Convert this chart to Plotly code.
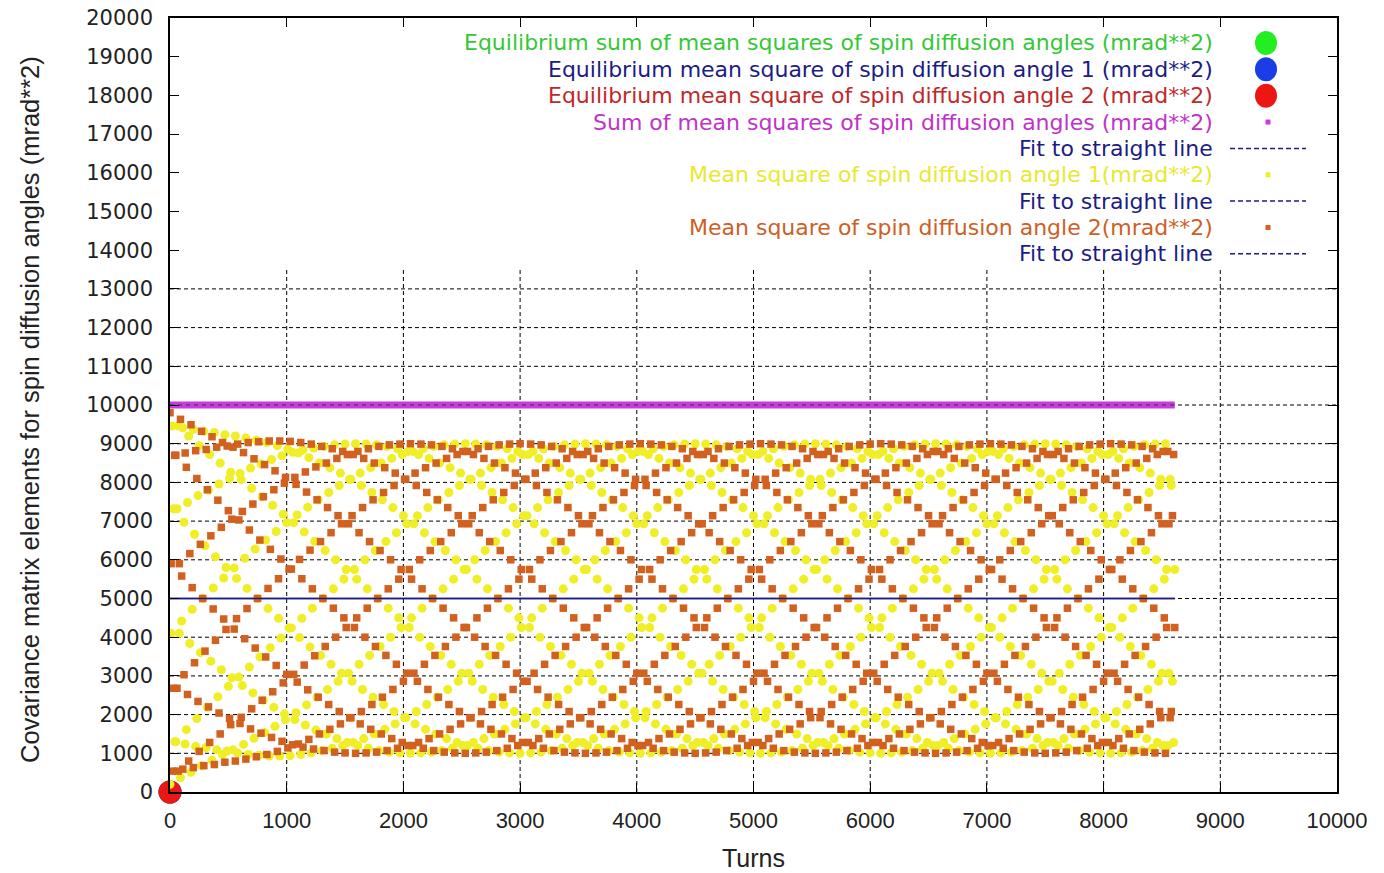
import plotly.graph_objects as go

# ---------------- data ----------------
# one sample every 10 turns, 0 ... 8610
turns = list(range(0, 8611, 10))

angle2_ms = [
    9800, 5900, 540, 2680, 8700, 8700, 2680, 540, 5900,
    9630, 5580, 590, 3030, 8760, 8390, 2520, 800, 6160,
    9490, 5280, 630, 3340, 8820, 8100, 2340, 1050, 6400,
    9320, 5000, 680, 3640, 8850, 7810, 2200, 1280, 6620,
    9180, 4730, 710, 3920, 8910, 7540, 2040, 1500, 6840,
    9030, 4470, 770, 4200, 8940, 7270, 1900, 1740, 7050,
    8910, 4210, 800, 4480, 8990, 7030, 1770, 1930, 7250,
    8770, 3960, 850, 4740, 9030, 6770, 1630, 2150, 7440,
    8610, 3720, 910, 5000, 9050, 6510, 1520, 2370, 7630,
    8460, 3490, 970, 5260, 9070, 6270, 1410, 2590, 7810,
    8300, 3270, 1050, 5510, 9070, 6020, 1310, 2820, 7980,
    8130, 3040, 1140, 5760, 9060, 5760, 1220, 3040, 8130,
    7950, 2840, 1240, 6010, 9030, 5510, 1160, 3280, 8270,
    7750, 2640, 1360, 6250, 8990, 5250, 1110, 3520, 8400,
    7550, 2450, 1500, 6470, 8930, 5000, 1070, 3760, 8500,
    7350, 2260, 1620, 6700, 8870, 4750, 1030, 4000, 8620,
    7140, 2080, 1760, 6930, 8800, 4500, 1010, 4250, 8720,
    6930, 1920, 1920, 7140, 8720, 4250, 1000, 4500, 8800,
    6700, 1760, 2080, 7350, 8620, 4000, 1010, 4750, 8870,
    6470, 1620, 2260, 7550, 8500, 3760, 1030, 5000, 8930,
    6240, 1500, 2450, 7740, 8380, 3530, 1070, 5250, 8970,
    6000, 1380, 2650, 7920, 8240, 3300, 1130, 5500, 8990,
    5750, 1280, 2860, 8080, 8080, 3070, 1200, 5750, 9000,
    5500, 1200, 3070, 8240, 7920, 2860, 1280, 6000, 8990,
    5250, 1130, 3300, 8380, 7740, 2650, 1380, 6240, 8970,
    5000, 1070, 3530, 8500, 7550, 2450, 1500, 6470, 8930,
    4750, 1030, 3760, 8620, 7350, 2260, 1620, 6700, 8870,
    4500, 1010, 4000, 8720, 7140, 2080, 1760, 6930, 8800,
    4250, 1000, 4250, 8800, 6930, 1920, 1920, 7140, 8720,
    4000, 1010, 4500, 8870, 6700, 1760, 2080, 7350, 8620,
    3760, 1030, 4750, 8930, 6470, 1620, 2260, 7550, 8500,
    3530, 1070, 5000, 8970, 6240, 1500, 2450, 7740, 8380,
    3300, 1130, 5250, 8990, 6000, 1380, 2650, 7920, 8240,
    3070, 1200, 5500, 9000, 5750, 1280, 2860, 8080, 8080,
    2860, 1280, 5750, 8990, 5500, 1200, 3070, 8240, 7920,
    2650, 1380, 6000, 8970, 5250, 1130, 3300, 8380, 7740,
    2450, 1500, 6240, 8930, 5000, 1070, 3530, 8500, 7550,
    2260, 1620, 6470, 8870, 4750, 1030, 3760, 8620, 7350,
    2080, 1760, 6700, 8800, 4500, 1010, 4000, 8720, 7140,
    1920, 1920, 6930, 8720, 4250, 1000, 4250, 8800, 6930,
    1760, 2080, 7140, 8620, 4000, 1010, 4500, 8870, 6700,
    1620, 2260, 7350, 8500, 3760, 1030, 4750, 8930, 6470,
    1500, 2450, 7550, 8380, 3530, 1070, 5000, 8970, 6240,
    1380, 2650, 7740, 8240, 3300, 1130, 5250, 8990, 6000,
    1280, 2860, 7920, 8080, 3070, 1200, 5500, 9000, 5750,
    1200, 3070, 8080, 7920, 2860, 1280, 5750, 8990, 5500,
    1130, 3300, 8240, 7740, 2650, 1380, 6000, 8970, 5250,
    1070, 3530, 8380, 7550, 2450, 1500, 6240, 8930, 5000,
    1030, 3760, 8500, 7350, 2260, 1620, 6470, 8870, 4750,
    1010, 4000, 8620, 7140, 2080, 1760, 6700, 8800, 4500,
    1000, 4250, 8720, 6930, 1920, 1920, 6930, 8720, 4250,
    1010, 4500, 8800, 6700, 1760, 2080, 7140, 8620, 4000,
    1030, 4750, 8870, 6470, 1620, 2260, 7350, 8500, 3760,
    1070, 5000, 8930, 6240, 1500, 2450, 7550, 8380, 3530,
    1130, 5250, 8970, 6000, 1380, 2650, 7740, 8240, 3300,
    1200, 5500, 8990, 5750, 1280, 2860, 7920, 8080, 3070,
    1280, 5750, 9000, 5500, 1200, 3070, 8080, 7920, 2860,
    1380, 6000, 8990, 5250, 1130, 3300, 8240, 7740, 2650,
    1500, 6240, 8970, 5000, 1070, 3530, 8380, 7550, 2450,
    1620, 6470, 8930, 4750, 1030, 3760, 8500, 7350, 2260,
    1760, 6700, 8870, 4500, 1010, 4000, 8620, 7140, 2080,
    1920, 6930, 8800, 4250, 1000, 4250, 8720, 6930, 1920,
    2080, 7140, 8720, 4000, 1010, 4500, 8800, 6700, 1760,
    2260, 7350, 8620, 3760, 1030, 4750, 8870, 6470, 1620,
    2450, 7550, 8500, 3530, 1070, 5000, 8930, 6240, 1500,
    2650, 7740, 8380, 3300, 1130, 5250, 8970, 6000, 1380,
    2860, 7920, 8240, 3070, 1200, 5500, 8990, 5750, 1280,
    3070, 8080, 8080, 2860, 1280, 5750, 9000, 5500, 1200,
    3300, 8240, 7920, 2650, 1380, 6000, 8990, 5250, 1130,
    3530, 8380, 7740, 2450, 1500, 6240, 8970, 5000, 1070,
    3760, 8500, 7550, 2260, 1620, 6470, 8930, 4750, 1030,
    4000, 8620, 7350, 2080, 1760, 6700, 8870, 4500, 1010,
    4250, 8720, 7140, 1920, 1920, 6930, 8800, 4250, 1000,
    4500, 8800, 6930, 1760, 2080, 7140, 8720, 4000, 1010,
    4750, 8870, 6700, 1620, 2260, 7350, 8620, 3760, 1030,
    5000, 8930, 6470, 1500, 2450, 7550, 8500, 3530, 1070,
    5250, 8970, 6240, 1380, 2650, 7740, 8380, 3300, 1130,
    5500, 8990, 6000, 1280, 2860, 7920, 8240, 3070, 1200,
    5750, 9000, 5750, 1200, 3070, 8080, 8080, 2860, 1280,
    6000, 8990, 5500, 1130, 3300, 8240, 7920, 2650, 1380,
    6240, 8970, 5250, 1070, 3530, 8380, 7740, 2450, 1500,
    6470, 8930, 5000, 1030, 3760, 8500, 7550, 2260, 1620,
    6700, 8870, 4750, 1010, 4000, 8620, 7350, 2080, 1760,
    6930, 8800, 4500, 1000, 4250, 8720, 7140, 1920, 1920,
    7140, 8720, 4250, 1010, 4500, 8800, 6930, 1760, 2080,
    7350, 8620, 4000, 1030, 4750, 8870, 6700, 1620, 2260,
    7550, 8500, 3760, 1070, 5000, 8930, 6470, 1500, 2450,
    7740, 8380, 3530, 1130, 5250, 8970, 6240, 1380, 2650,
    7920, 8240, 3300, 1200, 5500, 8990, 6000, 1280, 2860,
    8080, 8080, 3070, 1280, 5750, 9000, 5750, 1200, 3070,
    8240, 7920, 2860, 1380, 6000, 8990, 5500, 1130, 3300,
    8380, 7740, 2650, 1500, 6240, 8970, 5250, 1070, 3530,
    8500, 7550, 2450, 1620, 6470, 8930, 5000, 1030, 3760,
    8620, 7350, 2260, 1760, 6700, 8870, 4750, 1010, 4000,
    8720, 7140, 2080, 1920, 6930, 8800, 4500, 1000, 4250,
    8800, 6930, 1920, 2080, 7140, 8720, 4250,
]

angle1_ms = [
    200, 4100, 9460, 7320, 1300, 1300, 7320, 9460, 4100,
    370, 4420, 9410, 6970, 1240, 1610, 7480, 9200, 3840,
    510, 4720, 9370, 6660, 1180, 1900, 7660, 8950, 3600,
    680, 5000, 9320, 6360, 1150, 2190, 7800, 8720, 3380,
    820, 5270, 9290, 6080, 1090, 2460, 7960, 8500, 3160,
    970, 5530, 9230, 5800, 1060, 2730, 8100, 8260, 2950,
    1090, 5790, 9200, 5520, 1010, 2970, 8230, 8070, 2750,
    1230, 6040, 9150, 5260, 970, 3230, 8370, 7850, 2560,
    1390, 6280, 9090, 5000, 950, 3490, 8480, 7630, 2370,
    1540, 6510, 9030, 4740, 930, 3730, 8590, 7410, 2190,
    1700, 6730, 8950, 4490, 930, 3980, 8690, 7180, 2020,
    1870, 6960, 8860, 4240, 940, 4240, 8780, 6960, 1870,
    2050, 7160, 8760, 3990, 970, 4490, 8840, 6720, 1730,
    2250, 7360, 8640, 3750, 1010, 4750, 8890, 6480, 1600,
    2450, 7550, 8500, 3530, 1070, 5000, 8930, 6240, 1500,
    2650, 7740, 8380, 3300, 1130, 5250, 8970, 6000, 1380,
    2860, 7920, 8240, 3070, 1200, 5500, 8990, 5750, 1280,
    3070, 8080, 8080, 2860, 1280, 5750, 9000, 5500, 1200,
    3300, 8240, 7920, 2650, 1380, 6000, 8990, 5250, 1130,
    3530, 8380, 7740, 2450, 1500, 6240, 8970, 5000, 1070,
    3760, 8500, 7550, 2260, 1620, 6470, 8930, 4750, 1030,
    4000, 8620, 7350, 2080, 1760, 6700, 8870, 4500, 1010,
    4250, 8720, 7140, 1920, 1920, 6930, 8800, 4250, 1000,
    4500, 8800, 6930, 1760, 2080, 7140, 8720, 4000, 1010,
    4750, 8870, 6700, 1620, 2260, 7350, 8620, 3760, 1030,
    5000, 8930, 6470, 1500, 2450, 7550, 8500, 3530, 1070,
    5250, 8970, 6240, 1380, 2650, 7740, 8380, 3300, 1130,
    5500, 8990, 6000, 1280, 2860, 7920, 8240, 3070, 1200,
    5750, 9000, 5750, 1200, 3070, 8080, 8080, 2860, 1280,
    6000, 8990, 5500, 1130, 3300, 8240, 7920, 2650, 1380,
    6240, 8970, 5250, 1070, 3530, 8380, 7740, 2450, 1500,
    6470, 8930, 5000, 1030, 3760, 8500, 7550, 2260, 1620,
    6700, 8870, 4750, 1010, 4000, 8620, 7350, 2080, 1760,
    6930, 8800, 4500, 1000, 4250, 8720, 7140, 1920, 1920,
    7140, 8720, 4250, 1010, 4500, 8800, 6930, 1760, 2080,
    7350, 8620, 4000, 1030, 4750, 8870, 6700, 1620, 2260,
    7550, 8500, 3760, 1070, 5000, 8930, 6470, 1500, 2450,
    7740, 8380, 3530, 1130, 5250, 8970, 6240, 1380, 2650,
    7920, 8240, 3300, 1200, 5500, 8990, 6000, 1280, 2860,
    8080, 8080, 3070, 1280, 5750, 9000, 5750, 1200, 3070,
    8240, 7920, 2860, 1380, 6000, 8990, 5500, 1130, 3300,
    8380, 7740, 2650, 1500, 6240, 8970, 5250, 1070, 3530,
    8500, 7550, 2450, 1620, 6470, 8930, 5000, 1030, 3760,
    8620, 7350, 2260, 1760, 6700, 8870, 4750, 1010, 4000,
    8720, 7140, 2080, 1920, 6930, 8800, 4500, 1000, 4250,
    8800, 6930, 1920, 2080, 7140, 8720, 4250, 1010, 4500,
    8870, 6700, 1760, 2260, 7350, 8620, 4000, 1030, 4750,
    8930, 6470, 1620, 2450, 7550, 8500, 3760, 1070, 5000,
    8970, 6240, 1500, 2650, 7740, 8380, 3530, 1130, 5250,
    8990, 6000, 1380, 2860, 7920, 8240, 3300, 1200, 5500,
    9000, 5750, 1280, 3070, 8080, 8080, 3070, 1280, 5750,
    8990, 5500, 1200, 3300, 8240, 7920, 2860, 1380, 6000,
    8970, 5250, 1130, 3530, 8380, 7740, 2650, 1500, 6240,
    8930, 5000, 1070, 3760, 8500, 7550, 2450, 1620, 6470,
    8870, 4750, 1030, 4000, 8620, 7350, 2260, 1760, 6700,
    8800, 4500, 1010, 4250, 8720, 7140, 2080, 1920, 6930,
    8720, 4250, 1000, 4500, 8800, 6930, 1920, 2080, 7140,
    8620, 4000, 1010, 4750, 8870, 6700, 1760, 2260, 7350,
    8500, 3760, 1030, 5000, 8930, 6470, 1620, 2450, 7550,
    8380, 3530, 1070, 5250, 8970, 6240, 1500, 2650, 7740,
    8240, 3300, 1130, 5500, 8990, 6000, 1380, 2860, 7920,
    8080, 3070, 1200, 5750, 9000, 5750, 1280, 3070, 8080,
    7920, 2860, 1280, 6000, 8990, 5500, 1200, 3300, 8240,
    7740, 2650, 1380, 6240, 8970, 5250, 1130, 3530, 8380,
    7550, 2450, 1500, 6470, 8930, 5000, 1070, 3760, 8500,
    7350, 2260, 1620, 6700, 8870, 4750, 1030, 4000, 8620,
    7140, 2080, 1760, 6930, 8800, 4500, 1010, 4250, 8720,
    6930, 1920, 1920, 7140, 8720, 4250, 1000, 4500, 8800,
    6700, 1760, 2080, 7350, 8620, 4000, 1010, 4750, 8870,
    6470, 1620, 2260, 7550, 8500, 3760, 1030, 5000, 8930,
    6240, 1500, 2450, 7740, 8380, 3530, 1070, 5250, 8970,
    6000, 1380, 2650, 7920, 8240, 3300, 1130, 5500, 8990,
    5750, 1280, 2860, 8080, 8080, 3070, 1200, 5750, 9000,
    5500, 1200, 3070, 8240, 7920, 2860, 1280, 6000, 8990,
    5250, 1130, 3300, 8380, 7740, 2650, 1380, 6240, 8970,
    5000, 1070, 3530, 8500, 7550, 2450, 1500, 6470, 8930,
    4750, 1030, 3760, 8620, 7350, 2260, 1620, 6700, 8870,
    4500, 1010, 4000, 8720, 7140, 2080, 1760, 6930, 8800,
    4250, 1000, 4250, 8800, 6930, 1920, 1920, 7140, 8720,
    4000, 1010, 4500, 8870, 6700, 1760, 2080, 7350, 8620,
    3760, 1030, 4750, 8930, 6470, 1620, 2260, 7550, 8500,
    3530, 1070, 5000, 8970, 6240, 1500, 2450, 7740, 8380,
    3300, 1130, 5250, 8990, 6000, 1380, 2650, 7920, 8240,
    3070, 1200, 5500, 9000, 5750, 1280, 2860, 8080, 8080,
    2860, 1280, 5750, 8990, 5500, 1200, 3070, 8240, 7920,
    2650, 1380, 6000, 8970, 5250, 1130, 3300, 8380, 7740,
    2450, 1500, 6240, 8930, 5000, 1070, 3530, 8500, 7550,
    2260, 1620, 6470, 8870, 4750, 1030, 3760, 8620, 7350,
    2080, 1760, 6700, 8800, 4500, 1010, 4000, 8720, 7140,
    1920, 1920, 6930, 8720, 4250, 1000, 4250, 8800, 6930,
    1760, 2080, 7140, 8620, 4000, 1010, 4500, 8870, 6700,
    1620, 2260, 7350, 8500, 3760, 1030, 4750, 8930, 6470,
    1500, 2450, 7550, 8380, 3530, 1070, 5000, 8970, 6240,
    1380, 2650, 7740, 8240, 3300, 1130, 5250, 8990, 6000,
    1280, 2860, 7920, 8080, 3070, 1200, 5500, 9000, 5750,
    1200, 3070, 8080, 7920, 2860, 1280, 5750,
]

sum_turns = [0, 8610]
sum_ms = [10000, 10000]
fit_turns = [0, 8610]
fit_sum = [10000, 10000]
fit_angle1 = [5000, 5000]
fit_angle2 = [5000, 5000]
eq_turns = [0]
eq_sum = [0]
eq_angle1 = [0]
eq_angle2 = [0]

x_ticks = list(range(0, 10001, 1000))
y_ticks = list(range(0, 20001, 1000))
key_top = 13540  # lower edge of the key box, which hides the grid above it

legend_labels = [
    "Equilibrium sum of mean squares of spin diffusion angles (mrad**2)",
    "Equilibrium mean square of spin diffusion angle 1 (mrad**2)",
    "Equilibrium mean square of spin diffusion angle 2 (mrad**2)",
    "Sum of mean squares of spin diffusion angles (mrad**2)",
    "Fit to straight line",
    "Mean square of spin diffusion angle 1(mrad**2)",
    "Fit to straight line",
    "Mean square of spin diffusion angle 2(mrad**2)",
    "Fit to straight line",
]

# ---------------- styles ----------------
GREEN = "#22ee22"
BLUE = "#1a3de8"
RED = "#ee1515"
MAGENTA = "#c83cdc"
NAVY = "#1c1c84"
YELLOW = "#f0ee26"
ORANGE = "#d2601e"
FONT = "Liberation Sans"
KEY_FONT = "DejaVu Sans"

W, H = 1384, 873
L, R, T, B = 170, 47, 18, 81
PW, PH = W - L - R, H - T - B


def px_x(px):
    return (px - L) / PW


def px_y(py):
    return (H - B - py) / PH


fig = go.Figure()

for ys, col in [(eq_sum, GREEN), (eq_angle1, BLUE), (eq_angle2, RED)]:
    fig.add_trace(go.Scatter(x=eq_turns, y=ys, mode="markers", cliponaxis=False,
                             marker=dict(size=23, color=col, line=dict(width=0)),
                             showlegend=False, hoverinfo="skip"))

fig.add_trace(go.Scatter(x=sum_turns, y=sum_ms, mode="lines",
                         line=dict(color=MAGENTA, width=7), showlegend=False))
fig.add_trace(go.Scatter(x=fit_turns, y=fit_sum, mode="lines",
                         line=dict(color="#6a2a9a", width=1.5, dash="4px,4px"), showlegend=False))
fig.add_trace(go.Scatter(x=turns, y=angle1_ms, mode="markers",
                         marker=dict(size=9, color=YELLOW, symbol="circle", line=dict(width=0)),
                         showlegend=False))
fig.add_trace(go.Scatter(x=fit_turns, y=fit_angle1, mode="lines",
                         line=dict(color=NAVY, width=1.6), showlegend=False))
fig.add_trace(go.Scatter(x=turns, y=angle2_ms, mode="markers",
                         marker=dict(size=7.5, color=ORANGE, symbol="square", line=dict(width=0)),
                         showlegend=False))
fig.add_trace(go.Scatter(x=fit_turns, y=fit_angle2, mode="lines",
                         line=dict(color=NAVY, width=1.6), showlegend=False))

shapes = []
# grid (gnuplot style, hidden behind the key box in the upper part)
for xv in x_ticks[1:-1]:
    shapes.append(dict(type="line", xref="x", yref="y", x0=xv, x1=xv, y0=0, y1=key_top,
                       line=dict(color="black", width=1, dash="4px,3px"), layer="below"))
for yv in y_ticks[1:]:
    if yv < key_top:
        shapes.append(dict(type="line", xref="x", yref="y", x0=0, x1=10000, y0=yv, y1=yv,
                           line=dict(color="black", width=1, dash="4px,3px"), layer="below"))

annotations = []
row_top, row_step = 43, 26.35
text_colors = ["#35c835", NAVY, "#c0282a", "#c033c8", NAVY, "#e8e830", NAVY, "#cc6026", NAVY]
symbols = [("big", GREEN), ("big", BLUE), ("big", RED), ("dot", MAGENTA), ("dash", NAVY),
           ("dot", YELLOW), ("dash", NAVY), ("dot", ORANGE), ("dash", NAVY)]
for i, (lab, tc, (kind, sc)) in enumerate(zip(legend_labels, text_colors, symbols)):
    py = row_top + i * row_step
    annotations.append(dict(x=px_x(1214), y=px_y(py), xref="paper", yref="paper",
                            text=lab, showarrow=False, xanchor="right", yanchor="middle",
                            borderpad=0,
                            font=dict(family=KEY_FONT, size=22, color=tc)))
    if kind == "big":
        shapes.append(dict(type="circle", xref="paper", yref="paper",
                           x0=px_x(1255), x1=px_x(1277), y0=px_y(py + 12), y1=px_y(py - 12),
                           fillcolor=sc, line=dict(width=0), layer="above"))
    elif kind == "dot":
        shapes.append(dict(type="rect", xref="paper", yref="paper",
                           x0=px_x(1265.5), x1=px_x(1270.5), y0=px_y(py + 2.5), y1=px_y(py - 2.5),
                           fillcolor=sc, line=dict(width=0), layer="above"))
    else:
        shapes.append(dict(type="line", xref="paper", yref="paper",
                           x0=px_x(1230), x1=px_x(1306), y0=px_y(py), y1=px_y(py),
                           line=dict(color=sc, width=1.5, dash="5px,3px"), layer="above"))

annotations.append(dict(x=px_x(753), y=px_y(858), xref="paper", yref="paper", text="Turns",
                        showarrow=False, xanchor="center", yanchor="middle",
                        font=dict(family=FONT, size=25, color="#222222")))
annotations.append(dict(x=px_x(30), y=px_y(410), xref="paper", yref="paper",
                        text="Covariance matrix elements for spin diffusion angles (mrad**2)",
                        showarrow=False, xanchor="center", yanchor="middle", textangle=-90,
                        font=dict(family=FONT, size=25.5, color="#222222")))

axis_common = dict(showline=True, linecolor="black", linewidth=1.5, mirror="ticks",
                   ticks="inside", ticklen=9, tickcolor="black", tickwidth=1.2,
                   showgrid=False, zeroline=False)

fig.update_layout(
    width=W, height=H, margin=dict(l=L, r=R, t=T, b=B, autoexpand=False),
    paper_bgcolor="white", plot_bgcolor="white",
    xaxis=dict(range=[0, 10000], tickvals=x_ticks, ticktext=[str(v) for v in x_ticks],
               tickfont=dict(family=FONT, size=22, color="#222222"), ticklabelstandoff=8,
               **axis_common),
    yaxis=dict(range=[0, 20000], tickvals=y_ticks, ticktext=[str(v) for v in y_ticks],
               tickfont=dict(family="DejaVu Sans", size=21, color="#222222"), ticklabelstandoff=11,
               **axis_common),
    shapes=shapes, annotations=annotations, showlegend=False,
)

fig.write_html("out.html")
